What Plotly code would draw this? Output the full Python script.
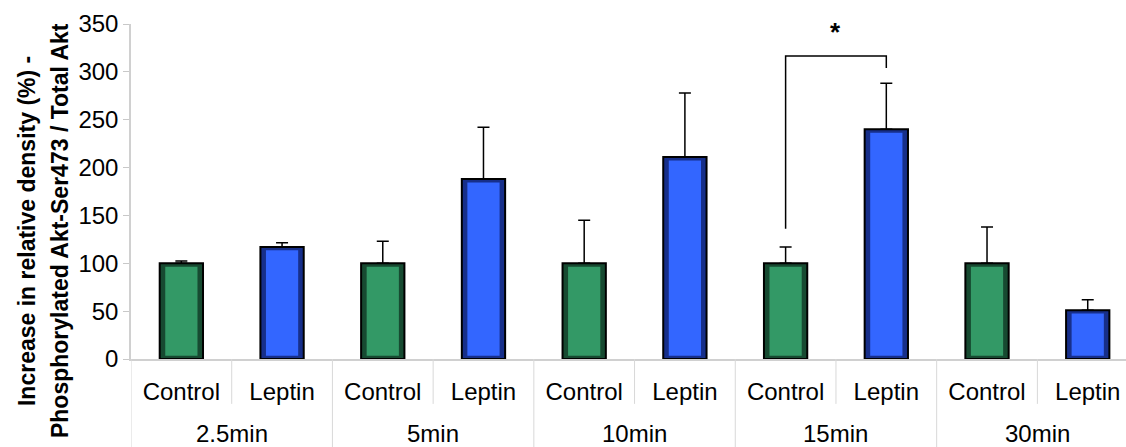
import plotly.graph_objects as go

groups = ["2.5min", "5min", "10min", "15min", "30min"]
treatments = ["Control", "Leptin"]
control_vals = [100, 100, 100, 100, 100]
control_err = [2.5, 23, 45, 17, 38]
leptin_vals = [117, 188, 211, 240, 51]
leptin_err = [4.5, 54, 67, 48, 11]

y_ticks = [0, 50, 100, 150, 200, 250, 300, 350]

# interleave Control / Leptin within each time group
inner_labels, vals, errs = [], [], []
dark_cols, light_cols = [], []
for i, g in enumerate(groups):
    inner_labels += treatments
    vals += [control_vals[i], leptin_vals[i]]
    errs += [control_err[i], leptin_err[i]]
    dark_cols += ["#174a31", "#172f8a"]
    light_cols += ["#339966", "#3366ff"]
xpos = list(range(len(vals)))
n_t = len(treatments)

inset = 3.5
fig = go.Figure()
fig.add_trace(go.Bar(
    x=xpos, y=vals, width=0.43,
    marker=dict(color=dark_cols, line=dict(color="black", width=2)),
    error_y=dict(type="data", array=errs, arrayminus=[0]*len(errs), symmetric=False,
                 color="black", thickness=1.5, width=6),
    showlegend=False, hoverinfo="skip",
))
fig.add_trace(go.Bar(
    x=xpos, y=[v - 2 * inset for v in vals], base=[inset]*len(vals), width=0.32,
    marker=dict(color=light_cols, line=dict(width=0)),
    showlegend=False,
))

# significance bracket (15min Control vs Leptin)
gi = groups.index("15min")
c_i, l_i = gi * n_t, gi * n_t + 1
fig.add_trace(go.Scatter(
    x=[xpos[c_i], xpos[c_i], xpos[l_i], xpos[l_i]],
    y=[136, 316.5, 316.5, 304],
    mode="lines", line=dict(color="black", width=1.5), showlegend=False, hoverinfo="skip",
))
fig.add_annotation(x=(xpos[c_i] + xpos[l_i]) / 2, y=342, xref="x", yref="y", text="<b>*</b>",
                   showarrow=False, font=dict(size=26, color="black", family="Liberation Sans"))

# group labels and dividers
for k, g in enumerate(groups):
    start = k * n_t - 0.5
    fig.add_annotation(x=start + n_t / 2, y=-0.222, xref="x", yref="paper", text=g,
                       showarrow=False, yanchor="middle",
                       font=dict(size=24, color="black", family="Liberation Sans"))
    fig.add_shape(type="line", xref="x", yref="paper", x0=start, x1=start,
                  y0=0, y1=-0.27, line=dict(color="#d8d8d8", width=1))
    fig.add_shape(type="line", xref="x", yref="paper", x0=start + 1, x1=start + 1,
                  y0=0, y1=-0.134, line=dict(color="#d8d8d8", width=1))

fig.add_annotation(xref="paper", yref="paper", x=(27 - 131) / 995, y=0.382, textangle=-90,
                   xanchor="center", yanchor="middle",
                   text="<b>Increase in relative density (%) -</b>", showarrow=False,
                   font=dict(size=23, color="black", family="Liberation Sans"))
fig.add_annotation(xref="paper", yref="paper", x=(60 - 131) / 995, y=0.382, textangle=-90,
                   xanchor="center", yanchor="middle",
                   text="<b>Phosphorylated Akt-Ser473 / Total Akt</b>", showarrow=False,
                   font=dict(size=23, color="black", family="Liberation Sans"))

fig.update_layout(
    width=1126, height=447,
    margin=dict(l=131, r=0, t=24, b=88),
    plot_bgcolor="white", paper_bgcolor="white",
    font=dict(family="Liberation Sans", size=24, color="black"),
    barmode="overlay",
)
fig.update_yaxes(range=[0, 350], tickvals=y_ticks, showgrid=False, zeroline=False,
                 showline=True, linecolor="#d0d0d0", linewidth=1.5, automargin=False,
                 ticks="outside", ticklen=6, tickcolor="#c8c8c8",
                 tickfont=dict(size=24, color="black"))
fig.update_xaxes(range=[-0.5, len(vals) - 0.62], showgrid=False, automargin=False,
                 zeroline=False, tickvals=xpos, ticktext=inner_labels, ticks="",
                 ticklabelstandoff=10,
                 showline=True, linecolor="#d0d0d0", linewidth=1.5,
                 tickfont=dict(size=24, color="black"))

fig.write_html("out.html", config={"displayModeBar": False},
               post_script="document.body.style.margin='0';")
